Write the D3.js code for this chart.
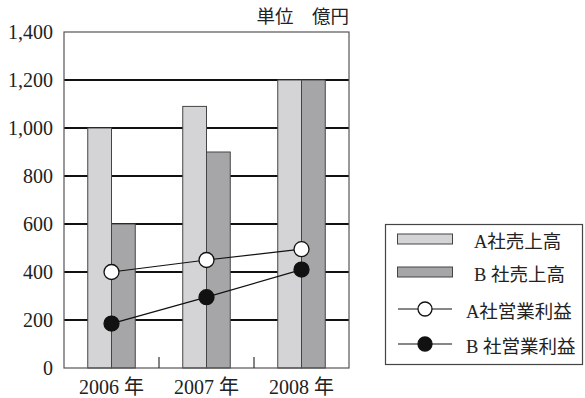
<!DOCTYPE html>
<html>
<head>
<meta charset="utf-8">
<script src="https://cdn.jsdelivr.net/npm/d3@7"></script>
<style>
  html, body { margin: 0; padding: 0; background: #fff; }
  svg { display: block; }
  text { font-family: "Liberation Serif", "Noto Sans CJK JP", serif; fill: #222; }
</style>
</head>
<body>
<svg id="chart" width="585" height="398"></svg>
<script>
// Sales (bars) and operating profit (lines), in 億円
const years = ["2006", "2007", "2008"];
const salesA = [1000, 1090, 1200];
const salesB = [600, 900, 1200];
const profitA = [400, 450, 495];
const profitB = [185, 295, 410];
const yTicks = [0, 200, 400, 600, 800, 1000, 1200, 1400];
const unitLabel = "単位　億円";
const legendLabels = ["A社売上高", "B 社売上高", "A社営業利益", "B 社営業利益"];

const svg = d3.select("#chart");
const m = { left: 64, right: 349, top: 32, bottom: 368 };

const x = d3.scaleBand().domain(years).range([m.left, m.right]).padding(0);
const inner = d3.scaleBand().domain(["A", "B"])
  .range([x.bandwidth() * 0.25, x.bandwidth() * 0.75]).padding(0);
const y = d3.scaleLinear().domain([0, 1400]).range([m.bottom, m.top]);

const colA = "#d4d4d6", colB = "#a6a6a9";

// horizontal grid lines
svg.append("g")
  .selectAll("line")
  .data(yTicks.filter(d => d > 0 && d < 1400))
  .join("line")
  .attr("x1", m.left).attr("x2", m.right)
  .attr("y1", d => y(d)).attr("y2", d => y(d))
  .attr("stroke", "#111").attr("stroke-width", 2);

// bars
const bars = svg.append("g");
years.forEach((yr, i) => {
  [["A", salesA[i], colA], ["B", salesB[i], colB]].forEach(([k, v, c]) => {
    bars.append("rect")
      .attr("x", x(yr) + inner(k))
      .attr("y", y(v))
      .attr("width", inner.bandwidth())
      .attr("height", y(0) - y(v))
      .attr("fill", c)
      .attr("stroke", "#444").attr("stroke-width", 1);
  });
});

// frame
svg.append("rect")
  .attr("x", m.left).attr("y", m.top)
  .attr("width", m.right - m.left).attr("height", m.bottom - m.top)
  .attr("fill", "none").attr("stroke", "#555").attr("stroke-width", 1.2);

// category separator ticks along the bottom
svg.append("g").selectAll("line")
  .data(years.slice(1))
  .join("line")
  .attr("x1", d => x(d)).attr("x2", d => x(d))
  .attr("y1", m.bottom - 11).attr("y2", m.bottom)
  .attr("stroke", "#333").attr("stroke-width", 1.2);

// y axis labels
svg.append("g").selectAll("text")
  .data(yTicks)
  .join("text")
  .attr("x", 53).attr("y", d => y(d))
  .attr("dy", "0.33em")
  .attr("text-anchor", "end")
  .attr("font-size", 20)
  .text(d => d3.format(",")(d));

// x axis labels
svg.append("g").selectAll("text")
  .data(years)
  .join("text")
  .attr("x", d => x(d) + x.bandwidth() / 2)
  .attr("y", 394)
  .attr("text-anchor", "middle")
  .attr("font-size", 20)
  .text(d => d + " 年");

// unit label
svg.append("text")
  .attr("x", m.right).attr("y", 23)
  .attr("text-anchor", "end")
  .attr("font-size", 18.5)
  .text(unitLabel);

// profit lines
const cx = d => x(d) + x.bandwidth() / 2;
const line = d3.line().x(d => cx(d[0])).y(d => y(d[1]));
[[profitA, "#fff"], [profitB, "#111"]].forEach(([vals, fill]) => {
  const pts = years.map((yr, i) => [yr, vals[i]]);
  svg.append("path").attr("d", line(pts))
    .attr("fill", "none").attr("stroke", "#111").attr("stroke-width", 1.2);
  svg.append("g").selectAll("circle").data(pts).join("circle")
    .attr("cx", d => cx(d[0])).attr("cy", d => y(d[1]))
    .attr("r", 7.5)
    .attr("fill", fill).attr("stroke", "#111").attr("stroke-width", 1.3);
});

// legend
const lg = svg.append("g");
lg.append("rect").attr("x", 385.5).attr("y", 224.5).attr("width", 197).attr("height", 140)
  .attr("fill", "#fff").attr("stroke", "#444").attr("stroke-width", 1.2);
const rowY = [239, 272, 309, 344];
const fills = [colA, colB];
legendLabels.forEach((lab, i) => {
  const ry = rowY[i];
  if (i < 2) {
    lg.append("rect").attr("x", 397.5).attr("y", ry - 5).attr("width", 55).attr("height", 10)
      .attr("fill", fills[i]).attr("stroke", "#444").attr("stroke-width", 1);
  } else {
    lg.append("line").attr("x1", 398).attr("x2", 452).attr("y1", ry).attr("y2", ry)
      .attr("stroke", "#111").attr("stroke-width", 1.2);
    lg.append("circle").attr("cx", 425).attr("cy", ry).attr("r", 7)
      .attr("fill", i === 2 ? "#fff" : "#111").attr("stroke", "#111").attr("stroke-width", 1.3);
  }
  lg.append("text").attr("x", i < 2 ? 474 : 466).attr("y", ry + 2).attr("dy", "0.36em")
    .attr("font-size", 18.5).text(lab);
});
</script>
</body>
</html>
